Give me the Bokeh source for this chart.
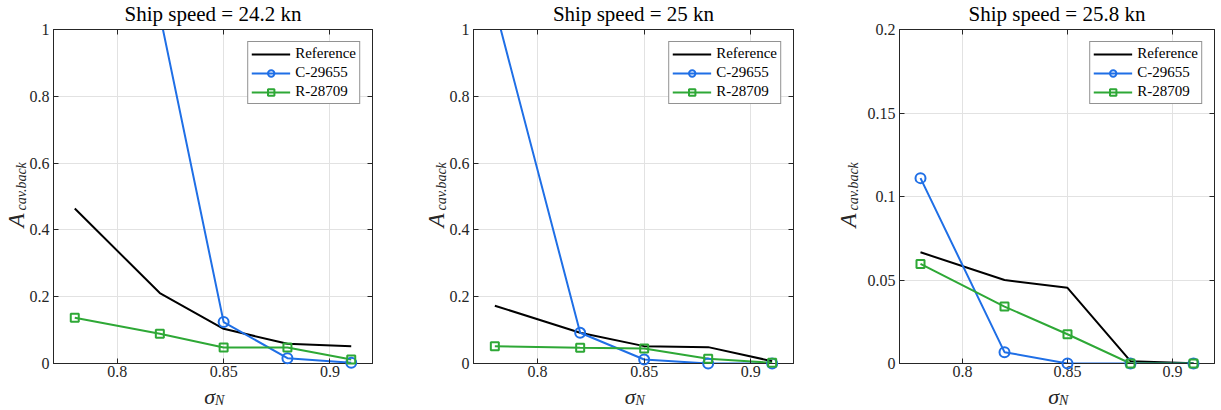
import math
from bokeh.plotting import figure
from bokeh.models import Range1d, LinearAxis, FixedTicker
from bokeh.core.properties import value
from bokeh.layouts import row
from bokeh.embed import file_html
from bokeh.resources import INLINE

# ---------------- data ----------------
sigma_n = [0.78, 0.82, 0.85, 0.88, 0.91]
titles = ["Ship speed = 24.2 kn", "Ship speed = 25 kn", "Ship speed = 25.8 kn"]

ref_242 = [0.464, 0.211, 0.104, 0.059, 0.052]
c_242 = [1.80, 1.045, 0.124, 0.016, 0.002]
r_242 = [0.137, 0.089, 0.048, 0.048, 0.012]

ref_250 = [0.173, 0.092, 0.052, 0.049, 0.007]
c_250 = [1.068, 0.092, 0.012, 0.0, 0.0]
r_250 = [0.052, 0.047, 0.045, 0.014, 0.002]

ref_258 = [0.0666, 0.050, 0.0453, 0.0014, 0.0002]
c_258 = [0.111, 0.0068, 0.0, 0.0, 0.0]
r_258 = [0.0596, 0.0341, 0.0175, 0.0, 0.0]

series_names = ["Reference", "C-29655", "R-28709"]

x_lims = [0.77, 0.92]
x_ticks = [0.8, 0.85, 0.9]
x_tick_labels = ["0.8", "0.85", "0.9"]
y_ticks_a = [0, 0.2, 0.4, 0.6, 0.8, 1]
y_tick_labels_a = ["0", "0.2", "0.4", "0.6", "0.8", "1"]
y_ticks_b = [0, 0.05, 0.1, 0.15, 0.2]
y_tick_labels_b = ["0", "0.05", "0.1", "0.15", "0.2"]

# ---------------- style ----------------
FONT = "Liberation Serif"
DARK = "#262626"
BLUE = "#1f6fe6"
GREEN = "#2ea836"
GRID = "#e2e2e2"
H = 410
TOP, BOTTOM = 29, 47


def style_axis(ax, labels=True, standoff=4):
    ax.major_tick_in = 5
    ax.major_tick_out = 0
    ax.minor_tick_in = 0
    ax.minor_tick_out = 0
    ax.axis_line_color = DARK
    ax.major_tick_line_color = DARK
    ax.major_label_text_font = FONT
    ax.major_label_text_color = DARK
    if labels:
        ax.major_label_text_font_size = "16px"
        ax.major_label_standoff = standoff
    else:
        ax.major_label_text_font_size = "0px"
        ax.major_label_standoff = 0


def in_view(xs, ys, ymax):
    pts = [(x, y) for x, y in zip(xs, ys) if 0 <= y <= ymax]
    return [a for a, _ in pts], [b for _, b in pts]


def make_panel(title, ref, cc, rr, yticks, ylabels, ymax, width, bl, br, ylab_dx):
    p = figure(width=width, height=H, x_range=Range1d(*x_lims),
               y_range=Range1d(0, ymax), output_backend="svg",
               toolbar_location=None, min_border_left=bl, min_border_right=br,
               min_border_top=TOP, min_border_bottom=BOTTOM)
    p.background_fill_color = "white"
    p.border_fill_color = "white"
    p.outline_line_color = DARK

    p.xaxis.ticker = FixedTicker(ticks=x_ticks)
    p.xaxis.major_label_overrides = dict(zip(x_ticks, x_tick_labels))
    p.yaxis.ticker = FixedTicker(ticks=yticks)
    p.yaxis.major_label_overrides = dict(zip(yticks, ylabels))
    style_axis(p.xaxis[0], standoff=2)
    style_axis(p.yaxis[0], standoff=4)

    top = LinearAxis(ticker=FixedTicker(ticks=x_ticks),
                     major_label_overrides={t: "" for t in x_ticks})
    right = LinearAxis(ticker=FixedTicker(ticks=yticks),
                       major_label_overrides={t: "" for t in yticks})
    style_axis(top, labels=False)
    style_axis(right, labels=False)
    p.add_layout(top, "above")
    p.add_layout(right, "right")

    p.xgrid.grid_line_color = GRID
    p.ygrid.grid_line_color = GRID

    p.line(sigma_n, ref, line_color="black", line_width=2, legend_label=series_names[0])
    p.line(sigma_n, cc, line_color=BLUE, line_width=2, legend_label=series_names[1])
    cx, cy = in_view(sigma_n, cc, ymax)
    p.scatter(cx, cy, marker="circle", size=10, line_color=BLUE,
              fill_color=None, line_width=2, legend_label=series_names[1],
              level="overlay")
    p.line(sigma_n, rr, line_color=GREEN, line_width=2, legend_label=series_names[2])
    rx, ry = in_view(sigma_n, rr, ymax)
    p.scatter(rx, ry, marker="square", size=8, line_color=GREEN,
              fill_color=None, line_width=2, legend_label=series_names[2],
              level="overlay")

    lg = p.legend[0]
    lg.location = "top_right"
    lg.margin = 12
    lg.padding = 3
    lg.spacing = 2
    lg.border_line_color = DARK
    lg.border_line_width = 1
    lg.background_fill_color = "white"
    lg.background_fill_alpha = 1
    lg.label_text_font = FONT
    lg.label_text_font_size = "15px"
    lg.label_text_color = "black"
    lg.glyph_width = 39
    lg.glyph_height = 16
    lg.label_height = 16
    lg.label_standoff = 5

    # title and axis titles as real serif text, placed through the plot's
    # scales and offset in pixels
    xm = (x_lims[0] + x_lims[1]) / 2
    ym = ymax / 2
    base = dict(text_font=value(FONT), text_color=DARK, level="overlay",
                text_baseline="middle")
    p.text(x=[xm], y=[ymax], text=[title], y_offset=-16, text_align="center",
           text_font_size="21px", **dict(base, text_color="black"))
    it = dict(base, text_font_style="italic")
    p.text(x=[xm], y=[0], text=["σ"], x_offset=2, y_offset=33,
           text_align="right", text_font_size="22px", **it)
    p.text(x=[xm], y=[0], text=["N"], x_offset=2, y_offset=37,
           text_align="left", text_font_size="14px", **it)
    p.text(x=[x_lims[0]], y=[ym], text=["A"], x_offset=ylab_dx, y_offset=17,
           angle=math.pi / 2, text_align="right", text_font_size="23px", **it)
    p.text(x=[x_lims[0]], y=[ym], text=["cav.back"], x_offset=ylab_dx + 5, y_offset=14,
           angle=math.pi / 2, text_align="left", text_font_size="14px", **it)
    return p


p1 = make_panel(titles[0], ref_242, c_242, r_242, y_ticks_a, y_tick_labels_a, 1.0, 410, 53, 38, -37)
p2 = make_panel(titles[1], ref_250, c_250, r_250, y_ticks_a, y_tick_labels_a, 1.0, 405, 63, 22, -37)
p3 = make_panel(titles[2], ref_258, c_258, r_258, y_ticks_b, y_tick_labels_b, 0.2, 406, 84, 7, -51)

layout = row(p1, p2, p3, spacing=0)
open("out.html", "w").write(file_html(layout, INLINE))
